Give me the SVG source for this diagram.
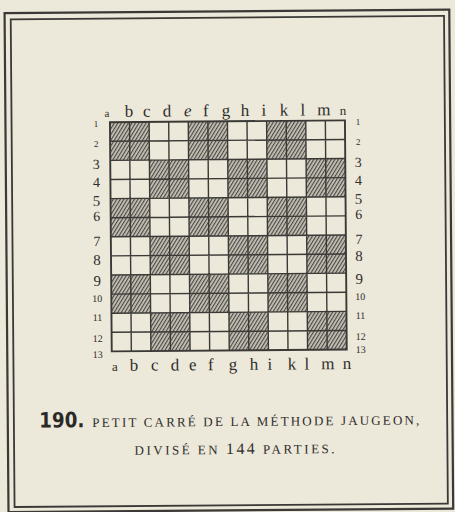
<svg xmlns="http://www.w3.org/2000/svg" width="455" height="512" viewBox="0 0 455 512">
<style>
  .frame{fill:none;stroke:#3a3936}
  .hatch{fill:url(#hatch)}
  .grid{fill:none;stroke:#3a3936;stroke-width:1.4}
  .lbl{font-family:"Liberation Serif","DejaVu Serif",serif;fill:#2f2e2b;text-anchor:middle}
  .let{font-size:17px}
  .num{font-size:12px}
  .cap{font-family:"Liberation Serif","DejaVu Serif",serif;fill:#2f2e2b;font-size:13px}
  .big{font-family:"DejaVu Sans","Liberation Sans",sans-serif;font-weight:bold;fill:#2a2927;font-size:21px}
</style>
<defs>
  <pattern id="hatch" patternUnits="userSpaceOnUse" width="3" height="3" patternTransform="rotate(32)">
    <rect x="0" y="0" width="3" height="3" fill="#c9c5b8"/>
    <rect x="0" y="0" width="1.2" height="3" fill="#4a4946"/>
  </pattern>
</defs>
<rect x="0" y="0" width="455" height="512" fill="#ece8da"/>
<g transform="rotate(-0.45 227.5 256)">
  <g id="frame">
    <rect class="frame" x="6.5" y="11.3" width="444.7" height="499.1" stroke-width="2.2"/>
    <rect class="frame" x="12.6" y="17.6" width="433.3" height="487.7" stroke-width="1.8"/>
  </g>
  <g id="hatched-blocks">
    <rect class="hatch" x="111" y="121.3" width="39.17" height="38.2"/>
    <rect class="hatch" x="189.33" y="121.3" width="39.17" height="38.2"/>
    <rect class="hatch" x="267.67" y="121.3" width="39.17" height="38.2"/>
    <rect class="hatch" x="150.17" y="159.5" width="39.17" height="38.2"/>
    <rect class="hatch" x="228.5" y="159.5" width="39.17" height="38.2"/>
    <rect class="hatch" x="306.83" y="159.5" width="39.17" height="38.2"/>
    <rect class="hatch" x="111" y="197.7" width="39.17" height="38.2"/>
    <rect class="hatch" x="189.33" y="197.7" width="39.17" height="38.2"/>
    <rect class="hatch" x="267.67" y="197.7" width="39.17" height="38.2"/>
    <rect class="hatch" x="150.17" y="235.9" width="39.17" height="38.2"/>
    <rect class="hatch" x="228.5" y="235.9" width="39.17" height="38.2"/>
    <rect class="hatch" x="306.83" y="235.9" width="39.17" height="38.2"/>
    <rect class="hatch" x="111" y="274.1" width="39.17" height="38.2"/>
    <rect class="hatch" x="189.33" y="274.1" width="39.17" height="38.2"/>
    <rect class="hatch" x="267.67" y="274.1" width="39.17" height="38.2"/>
    <rect class="hatch" x="150.17" y="312.3" width="39.17" height="38.2"/>
    <rect class="hatch" x="228.5" y="312.3" width="39.17" height="38.2"/>
    <rect class="hatch" x="306.83" y="312.3" width="39.17" height="38.2"/>
  </g>
  <g id="grid">
    <path class="grid" d="M130.58 121.3V350.5M150.17 121.3V350.5M169.75 121.3V350.5M189.33 121.3V350.5M208.92 121.3V350.5M228.5 121.3V350.5M248.08 121.3V350.5M267.67 121.3V350.5M287.25 121.3V350.5M306.83 121.3V350.5M326.42 121.3V350.5M111 140.4H346M111 159.5H346M111 178.6H346M111 197.7H346M111 216.8H346M111 235.9H346M111 255H346M111 274.1H346M111 293.2H346M111 312.3H346M111 331.4H346"/>
    <rect x="111" y="121.3" width="235" height="229.2" fill="none" stroke="#3a3936" stroke-width="1.9"/>
  </g>
  <g id="top-letters" class="lbl let">
    <text x="108" y="116" font-size="11">a</text>
    <text x="130" y="116">b</text>
    <text x="148" y="116">c</text>
    <text x="168" y="116">d</text>
    <text x="189" y="116" font-style="italic">e</text>
    <text x="207" y="116">f</text>
    <text x="227" y="116">g</text>
    <text x="246" y="116">h</text>
    <text x="265" y="116">i</text>
    <text x="285" y="116">k</text>
    <text x="304" y="116">l</text>
    <text x="325" y="116">m</text>
    <text x="344" y="116" font-size="13">n</text>
  </g>
  <g id="bottom-letters" class="lbl let">
    <text x="114" y="370" font-size="13">a</text>
    <text x="133" y="370">b</text>
    <text x="154" y="370">c</text>
    <text x="174" y="370">d</text>
    <text x="192" y="370">e</text>
    <text x="210" y="370">f</text>
    <text x="232" y="370">g</text>
    <text x="253" y="370">h</text>
    <text x="269" y="370">i</text>
    <text x="291" y="370">k</text>
    <text x="306" y="370">l</text>
    <text x="327" y="370">m</text>
    <text x="346" y="370">n</text>
  </g>
  <g id="left-numbers" class="lbl num">
    <text x="97" y="126" font-size="9">1</text>
    <text x="97" y="146" font-size="9">2</text>
    <text x="97" y="168" font-size="14">3</text>
    <text x="97" y="186" font-size="14">4</text>
    <text x="97" y="205" font-size="15">5</text>
    <text x="97" y="220" font-size="14">6</text>
    <text x="97" y="245" font-size="14">7</text>
    <text x="97" y="264" font-size="15">8</text>
    <text x="97" y="285" font-size="15">9</text>
    <text x="97" y="301" font-size="10">10</text>
    <text x="97" y="320" font-size="10">11</text>
    <text x="97" y="341" font-size="10">12</text>
    <text x="97" y="357" font-size="10">13</text>
  </g>
  <g id="right-numbers" class="lbl num">
    <text x="359" y="126" font-size="9">1</text>
    <text x="359" y="146" font-size="9">2</text>
    <text x="359" y="168" font-size="14">3</text>
    <text x="359" y="186" font-size="14">4</text>
    <text x="359" y="205" font-size="15">5</text>
    <text x="359" y="220" font-size="14">6</text>
    <text x="359" y="245" font-size="14">7</text>
    <text x="359" y="262" font-size="15">8</text>
    <text x="359" y="285" font-size="15">9</text>
    <text x="360" y="301" font-size="10">10</text>
    <text x="360" y="320" font-size="10">11</text>
    <text x="360" y="341" font-size="10">12</text>
    <text x="360" y="354" font-size="10">13</text>
  </g>
  <g id="caption">
    <text class="big" x="38" y="426" textLength="45" lengthAdjust="spacingAndGlyphs">190.</text>
    <text class="cap" x="91" y="426" textLength="327" lengthAdjust="spacing">PETIT CARRÉ DE LA MÉTHODE JAUGEON,</text>
    <text class="cap" x="133" y="454" textLength="200" lengthAdjust="spacing">DIVISÉ EN <tspan font-size="16">144</tspan> PARTIES.</text>
  </g>
</g>
</svg>
